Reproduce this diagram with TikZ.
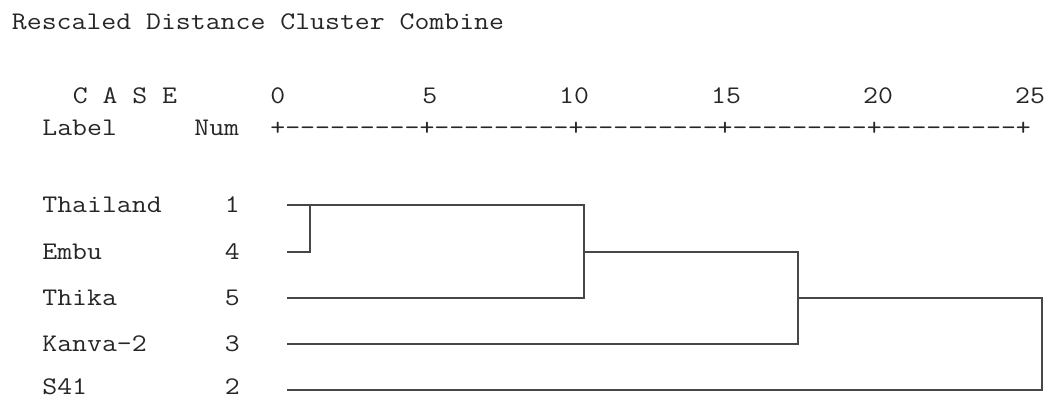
\documentclass[tikz,border=0pt]{standalone}
\usepackage{fontspec}
\newfontfamily\cour[FakeStretch=1.143,Ligatures=TeXOff]{Latin Modern Mono}
\begin{document}
\begin{tikzpicture}[x=1pt,y=-1pt,
  txt/.style={anchor=base west,inner sep=0pt,outer sep=0pt,font=\cour\fontsize{25.33}{30}\selectfont,text=black!85},
  dend/.style={draw=black!72,line width=1.4pt}]
\useasboundingbox (0,0) rectangle (1050,399);
% header texts
\node[txt] (title) at (12,29) {Rescaled Distance Cluster Combine};
\node[txt] (case) at (12+4*15.2,103) {C A S E};
\node[txt] (t0) at (12+17*15.2,103) {0};
\node[txt] (t5) at (12+27*15.2,103) {5};
\node[txt] (t10) at (12+36*15.2,103) {10};
\node[txt] (t15) at (12+46*15.2,103) {15};
\node[txt] (t20) at (12+56*15.2,103) {20};
\node[txt] (t25) at (12+66*15.2,103) {25};
\node[txt] (lab) at (12+2*15.2,135) {Label};
\node[txt] (num) at (12+12*15.2,135) {Num};
\node[txt] (axis) at (12+17*15.2,135) {+---------+---------+---------+---------+---------+};
% rows
\node[txt] (n1) at (12+2*15.2,212) {Thailand};
\node[txt] (c1) at (12+14*15.2,212) {1};
\node[txt] (n4) at (12+2*15.2,259) {Embu};
\node[txt] (c4) at (12+14*15.2,259) {4};
\node[txt] (n5) at (12+2*15.2,305) {Thika};
\node[txt] (c5) at (12+14*15.2,305) {5};
\node[txt] (n3) at (12+2*15.2,351) {Kanva-2};
\node[txt] (c3) at (12+14*15.2,351) {3};
\node[txt] (n2) at (12+2*15.2,394) {S41};
\node[txt] (c2) at (12+14*15.2,394) {2};
% dendrogram
\coordinate (l1) at (287,205);
\coordinate (l4) at (287,252);
\coordinate (l5) at (287,298);
\coordinate (l3) at (287,344);
\coordinate (l2) at (287,390);
\coordinate (j1) at (310,205);
\coordinate (j2) at (584,205);
\coordinate (j2m) at (584,252);
\coordinate (j3) at (798,252);
\coordinate (j3m) at (798,298);
\coordinate (j4) at (1042,298);
\draw[dend] (l1) -- (j2) |- (l5);
\draw[dend] (l4) -| (j1);
\draw[dend] (j2m) -- (j3) |- (l3);
\draw[dend] (j3m) -- (j4) |- (l2);
\end{tikzpicture}
\end{document}
